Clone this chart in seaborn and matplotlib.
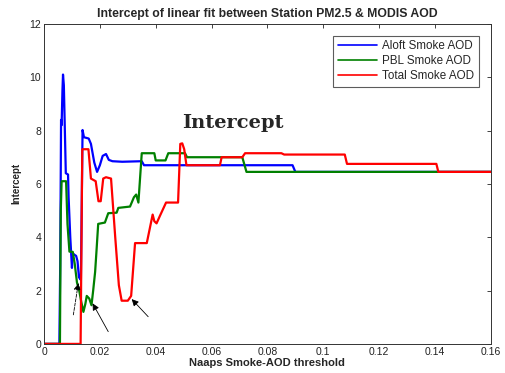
import numpy as np
import pandas as pd
import matplotlib
matplotlib.use("Agg")
import matplotlib.pyplot as plt
import seaborn as sns

# ---- data ----
aloft_x = [0, 0.0055, 0.0058, 0.0061, 0.0063, 0.0066, 0.0068, 0.0071, 0.0074, 0.0078,
           0.0086, 0.0088, 0.0094, 0.0100, 0.0103, 0.0108, 0.0115, 0.0120, 0.0125, 0.0132,
           0.0138, 0.0143, 0.0160, 0.0168, 0.0180, 0.0190, 0.0200, 0.0210, 0.0222, 0.0232,
           0.0245, 0.0280, 0.0350, 0.0358, 0.0890, 0.0900, 0.1600]
aloft_y = [0, 0, 3.0, 8.4, 8.2, 9.5, 10.1, 9.7, 8.3, 6.4,
           6.35, 5.5, 4.0, 2.85, 3.4, 3.35, 3.3, 3.1, 2.5, 2.4,
           8.02, 7.75, 7.7, 7.5, 6.8, 6.45, 6.7, 7.05, 7.12, 6.9,
           6.85, 6.83, 6.85, 6.7, 6.7, 6.45, 6.45]

pbl_x = [0, 0.0057, 0.0060, 0.0063, 0.0079, 0.0084, 0.0091, 0.0103, 0.0110, 0.0118, 0.0126,
         0.0133, 0.0141, 0.0148, 0.0153, 0.0162, 0.0170, 0.0176, 0.0183, 0.0188, 0.0194,
         0.0218, 0.0230, 0.0260, 0.0266, 0.0308, 0.0322, 0.0330, 0.0338, 0.0350, 0.0395,
         0.0400, 0.0435, 0.0445, 0.0505, 0.0512, 0.0710, 0.0725, 0.1600]
pbl_y = [0, 0, 5.0, 6.1, 6.1, 4.5, 3.46, 3.45, 3.0, 2.3, 2.0,
         1.6, 1.2, 1.5, 1.8, 1.7, 1.45, 2.0, 2.7, 3.5, 4.5,
         4.55, 4.9, 4.92, 5.1, 5.15, 5.5, 5.6, 5.3, 7.15, 7.15,
         6.88, 6.88, 7.15, 7.15, 7.0, 7.0, 6.45, 6.45]

total_x = [0, 0.0131, 0.0137, 0.0159, 0.0168, 0.0185, 0.0195, 0.0203, 0.0212, 0.0222, 0.0240,
           0.0255, 0.0268, 0.0278, 0.0300, 0.0312, 0.0326, 0.0368, 0.0389, 0.0395, 0.0403,
           0.0415, 0.0437, 0.0480, 0.0488, 0.0495, 0.0502, 0.0510, 0.0630, 0.0636, 0.0710,
           0.0720, 0.0850, 0.0860, 0.1077, 0.1085, 0.1405, 0.1412, 0.1600]
total_y = [0, 0, 7.3, 7.3, 6.2, 6.1, 5.35, 5.35, 6.2, 6.25, 6.2,
           4.0, 2.2, 1.62, 1.62, 1.8, 3.78, 3.78, 4.85, 4.6, 4.52,
           4.8, 5.3, 5.3, 7.5, 7.52, 7.3, 6.7, 6.7, 7.0, 7.0,
           7.15, 7.15, 7.1, 7.1, 6.75, 6.75, 6.45, 6.45]

series_names = ["Aloft Smoke AOD", "PBL Smoke AOD", "Total Smoke AOD"]
x_ticks = [0, 0.02, 0.04, 0.06, 0.08, 0.1, 0.12, 0.14, 0.16]
x_ticklabels = ["0", "0.02", "0.04", "0.06", "0.08", "0.1", "0.12", "0.14", "0.16"]
y_ticks = [0, 2, 4, 6, 8, 10, 12]

# arrows: (tip, tail)
arrow_tips = [(0.0123, 2.28), (0.0174, 1.52), (0.0314, 1.68)]
arrow_tails = [(0.0105, 1.09), (0.0230, 0.46), (0.0373, 1.02)]

df = pd.concat([
    pd.DataFrame({"x": aloft_x, "y": aloft_y, "series": series_names[0]}),
    pd.DataFrame({"x": pbl_x, "y": pbl_y, "series": series_names[1]}),
    pd.DataFrame({"x": total_x, "y": total_y, "series": series_names[2]}),
], ignore_index=True)

sns.set_style("white")
plt.rcParams['font.family'] = ['Liberation Sans', 'DejaVu Sans']

fig = plt.figure(figsize=(5.06, 3.73), dpi=100)
ax = fig.add_axes([0.087, 0.078, 0.883, 0.858])

palette = {series_names[0]: "#0000ff", series_names[1]: "#008000", series_names[2]: "#ff0000"}
sns.lineplot(data=df, x="x", y="y", hue="series", hue_order=series_names, palette=palette,
             estimator=None, sort=False, units="series", lw=1.6, ax=ax, legend=True)

ax.set_xlim(0, 0.16)
ax.set_ylim(0, 12)
ax.set_xticks(x_ticks)
ax.set_xticklabels(x_ticklabels)
ax.set_yticks(y_ticks)
ax.tick_params(direction="in", top=True, right=True, length=3, width=0.6,
               labelsize=7.5, colors="#222222", pad=2)
for s in ax.spines.values():
    s.set_color("#333333")
    s.set_linewidth(0.7)

ax.set_title("Intercept of linear fit between Station PM2.5 & MODIS AOD",
             fontsize=8.8, fontweight="bold", pad=5)
ax.set_xlabel("Naaps Smoke-AOD threshold", fontsize=8, fontweight="bold", labelpad=1)
ax.set_ylabel("Intercept", fontsize=7, fontweight="bold", labelpad=6)

leg = ax.legend(loc="upper right", fontsize=8.4, frameon=True, fancybox=False,
                edgecolor="#333333", borderaxespad=1.0, handlelength=3.3,
                borderpad=0.4, labelspacing=0.25, handletextpad=0.5)
leg.get_frame().set_linewidth(0.8)
for h in leg.get_lines():
    h.set_linewidth(1.2)

ax.text(0.0676, 8.3, "Intercept", fontsize=14, fontweight="bold",
        family=["DejaVu Serif"], ha="center", va="center")

for i, (tip, tail) in enumerate(zip(arrow_tips, arrow_tails)):
    ax.annotate("", xy=tip, xytext=tail,
                arrowprops=dict(arrowstyle="-|>", color="black", lw=0.6,
                                linestyle="--" if i == 0 else "-",
                                mutation_scale=10, shrinkA=0, shrinkB=0))

fig.savefig("out.png", dpi=100)
